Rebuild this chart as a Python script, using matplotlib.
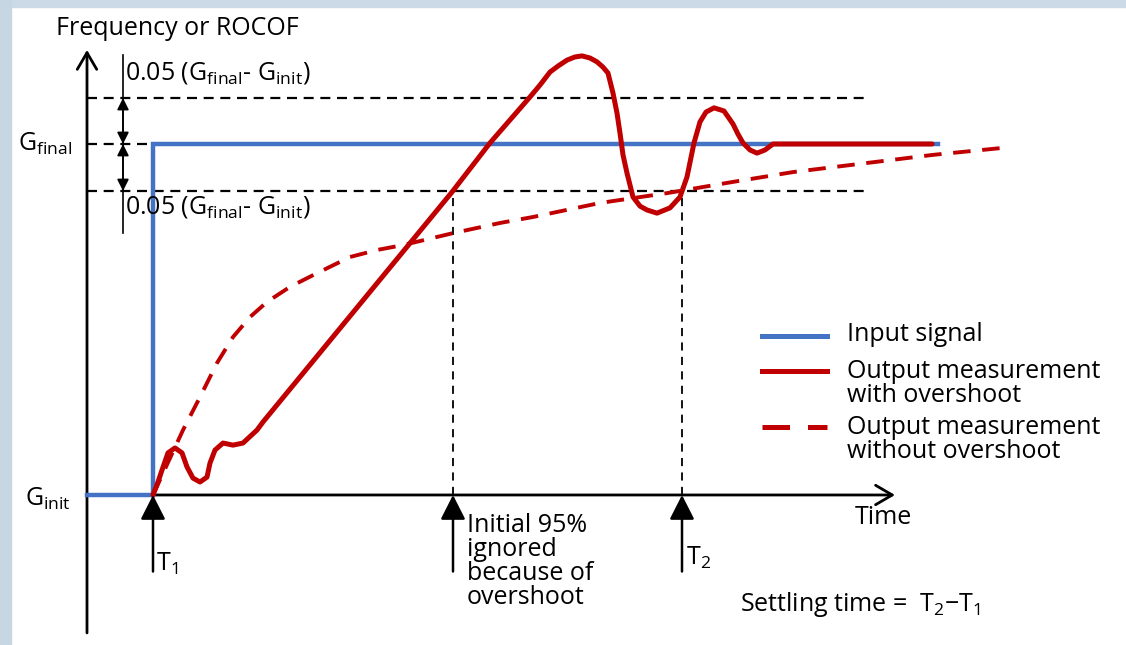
import matplotlib
matplotlib.use("Agg")
import matplotlib.pyplot as plt
from matplotlib.patches import Rectangle

plt.rcParams['font.family'] = ['Open Sans', 'DejaVu Sans']
plt.rcParams['mathtext.fontset'] = 'custom'
plt.rcParams['mathtext.rm'] = 'Open Sans'
plt.rcParams['mathtext.it'] = 'Open Sans'

# ---- data (time in arbitrary units, T1 = 0; level: G_init = 0, G_final = 1) ----
input_t = [-0.66, 0.0, 0.0, 7.85]
input_v = [0.0, 0.0, 1.0, 1.0]

overshoot_t = [0.00, 0.05, 0.09, 0.15, 0.22, 0.29, 0.34, 0.40, 0.47, 0.54, 0.57, 0.62,
               0.70, 0.80, 0.90, 1.04, 1.10, 2.99, 3.37, 3.77, 3.87, 3.97, 4.05, 4.14,
               4.22, 4.29, 4.37, 4.44, 4.50, 4.55, 4.60, 4.64, 4.67, 4.70, 4.74, 4.80,
               4.87, 4.94, 5.04, 5.17, 5.27, 5.34, 5.41, 5.47, 5.53, 5.61, 5.71, 5.80,
               5.85, 5.90, 5.97, 6.04, 6.12, 6.20, 7.79]
overshoot_v = [0.000, 0.037, 0.071, 0.120, 0.134, 0.120, 0.080, 0.048, 0.037, 0.051, 0.091, 0.128,
               0.148, 0.142, 0.148, 0.185, 0.208, 0.863, 1.003, 1.134, 1.168, 1.205, 1.222, 1.239,
               1.248, 1.251, 1.245, 1.234, 1.219, 1.202, 1.145, 1.088, 1.031, 0.969, 0.917, 0.849,
               0.823, 0.812, 0.803, 0.818, 0.849, 0.906, 1.003, 1.063, 1.091, 1.103, 1.094, 1.057,
               1.028, 1.003, 0.983, 0.974, 0.983, 1.000, 1.000]

smooth_t = [0.00, 0.17, 0.30, 0.47, 0.64, 0.80, 0.97, 1.14, 1.37, 1.64, 1.97, 2.24, 2.50,
            3.00, 3.47, 3.80, 4.47, 5.14, 5.80, 6.40, 7.80, 8.57]
smooth_v = [0.000, 0.105, 0.185, 0.279, 0.376, 0.450, 0.507, 0.550, 0.593, 0.632, 0.678, 0.698,
            0.712, 0.746, 0.775, 0.792, 0.832, 0.860, 0.892, 0.920, 0.969, 0.991]

band_upper = 1.131
band_lower = 0.866
t1 = 0.0
t95 = 3.0
t2 = 5.29

blue = '#4472C4'
red = '#C00000'

fig = plt.figure(figsize=(11.26, 6.45), dpi=100)
fig.patch.set_facecolor('white')
fig.patches.append(Rectangle((0, 1 - 7 / 645), 1, 7 / 645, transform=fig.transFigure,
                             color='#CBDAE6', zorder=0))
fig.patches.append(Rectangle((0, 0), 11 / 1126, 1, transform=fig.transFigure,
                             color='#C6D6E3', zorder=0))

ax = fig.add_axes([11 / 1126, 0, 1 - 11 / 1126, 1 - 7 / 645])
ax.set_xlim(-1.42, 9.73)
ax.set_ylim(-0.4274, 1.3903)
ax.axis('off')

# axes with open arrows
ax.annotate('', xy=(-0.66, 1.268), xytext=(-0.66, -0.393),
            arrowprops=dict(arrowstyle='->,head_length=0.6,head_width=0.35', lw=2, color='black',
                            shrinkA=0, shrinkB=0, mutation_scale=20))
ax.annotate('', xy=(7.42, 0.0), xytext=(-0.66, 0.0),
            arrowprops=dict(arrowstyle='->,head_length=0.6,head_width=0.35', lw=2, color='black',
                            shrinkA=0, shrinkB=0, mutation_scale=20))

# tolerance band
for lvl in (band_upper, band_lower):
    ax.plot([-0.66, 7.16], [lvl, lvl], color='black', lw=1.6, linestyle=(0, (4.5, 3.0)), zorder=2)
ax.plot([-0.66, 0.0], [1.0, 1.0], color='black', lw=1.6, linestyle=(0, (4.5, 3.0)), zorder=2)

# vertical markers
for tt in (t95, t2):
    ax.plot([tt, tt], [0.0, band_lower], color='black', lw=1.3, linestyle=(0, (4.5, 3.5)), zorder=2)
for tt in (t1, t95, t2):
    ax.annotate('', xy=(tt, 0.0), xytext=(tt, -0.218),
                arrowprops=dict(arrowstyle='-|>,head_length=0.75,head_width=0.38', lw=1.8,
                                color='black', shrinkA=0, shrinkB=0, mutation_scale=20), zorder=6)

# bracket with double arrows
ax.plot([-0.30, -0.30], [0.746, 1.254], color='black', lw=1.2)
for a, b in ((band_upper, 1.0), (1.0, band_lower)):
    ax.annotate('', xy=(-0.30, a), xytext=(-0.30, b),
                arrowprops=dict(arrowstyle='<|-|>,head_length=0.5,head_width=0.25', lw=1.2,
                                color='black', shrinkA=0, shrinkB=0, mutation_scale=14))

# curves
ax.plot(input_t, input_v, color=blue, lw=3.2, solid_joinstyle='miter', zorder=3)
ax.plot(smooth_t, smooth_v, color=red, lw=2.8, linestyle=(0, (4.5, 3.0)), zorder=4)
ax.plot(overshoot_t, overshoot_v, color=red, lw=3.6, solid_joinstyle='round',
        solid_capstyle='round', zorder=5)

# legend (manual)
lx0, lx1 = 6.09, 6.74
ax.plot([lx0, lx1], [0.453, 0.453], color=blue, lw=3.6)
ax.plot([lx0, lx1], [0.353, 0.353], color=red, lw=3.6)
ax.plot([lx0, lx1], [0.194, 0.194], color=red, lw=3.6, linestyle=(0, (5.5, 3.6)))
fs = 18
ax.text(6.94, 0.456, 'Input signal', fontsize=fs, va='center', ha='left')
ax.text(6.94, 0.318, 'Output measurement\nwith overshoot', fontsize=fs, va='center', ha='left',
        linespacing=0.95)
ax.text(6.94, 0.157, 'Output measurement\nwithout overshoot', fontsize=fs, va='center', ha='left',
        linespacing=0.95)

# labels
ax.text(-0.97, 1.328, 'Frequency or ROCOF', fontsize=fs, va='center', ha='left')
ax.text(-0.28, 1.202, r'0.05 (G$_\mathregular{final}$- G$_\mathregular{init}$)', fontsize=fs,
        va='center', ha='left')
ax.text(-0.28, 0.82, r'0.05 (G$_\mathregular{final}$- G$_\mathregular{init}$)', fontsize=fs,
        va='center', ha='left')
ax.text(-1.35, 1.0, r'G$_\mathregular{final}$', fontsize=fs, va='center', ha='left')
ax.text(-1.28, -0.01, r'G$_\mathregular{init}$', fontsize=fs, va='center', ha='left')
ax.text(0.03, -0.195, r'T$_\mathregular{1}$', fontsize=fs, va='center', ha='left')
ax.text(5.33, -0.18, r'T$_\mathregular{2}$', fontsize=fs, va='center', ha='left')
ax.text(3.14, -0.19, 'Initial 95%\nignored\nbecause of\novershoot', fontsize=fs, va='center',
        ha='left', linespacing=0.95)
ax.text(7.02, -0.063, 'Time', fontsize=fs, va='center', ha='left')
ax.text(5.87, -0.313, r'Settling time =  T$_\mathregular{2}$$-$T$_\mathregular{1}$', fontsize=fs,
        va='center', ha='left')

fig.savefig('out.png', dpi=100)
